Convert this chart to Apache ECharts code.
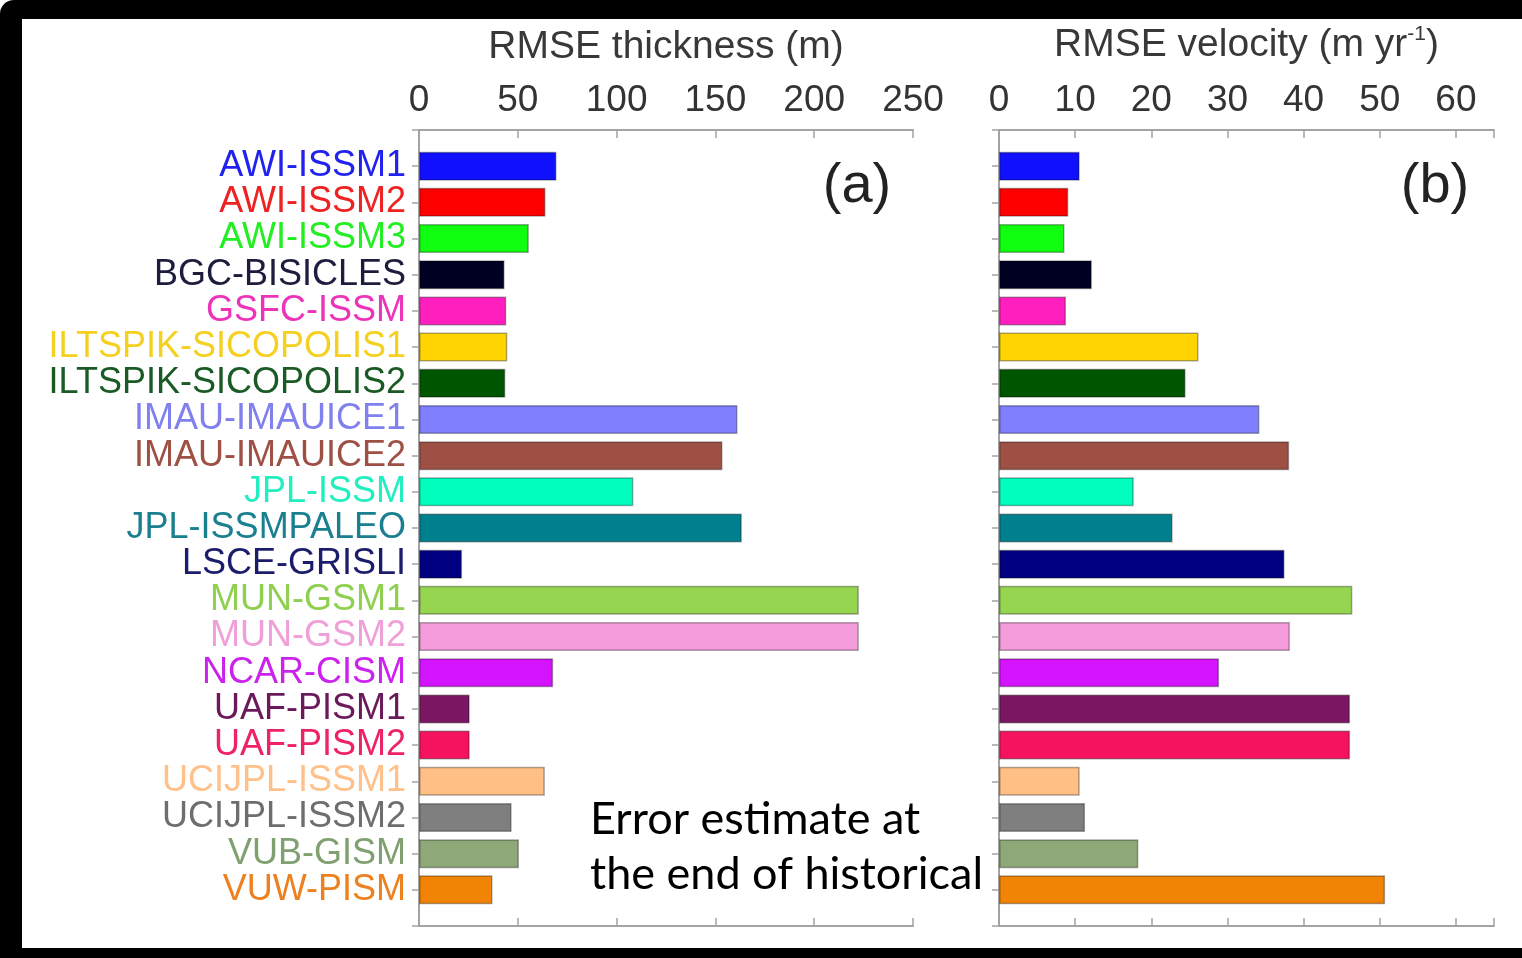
<!DOCTYPE html>
<html>
<head>
<meta charset="utf-8">
<script src="https://cdn.jsdelivr.net/npm/echarts@6/dist/echarts.min.js"></script>
<style>
html,body{margin:0;padding:0;background:#fff;}
#frame{position:absolute;left:0;top:0;width:1522px;height:958px;background:#000;border-top-left-radius:14px;}
#inner{position:absolute;left:22px;top:19px;width:1500px;height:929px;background:#fff;}
#c{position:absolute;left:0;top:0;width:1522px;height:958px;}
</style>
</head>
<body>
<div id="frame"><div id="inner"></div></div>
<div id="c"></div>
<script>
const categories = ['AWI-ISSM1','AWI-ISSM2','AWI-ISSM3','BGC-BISICLES','GSFC-ISSM','ILTSPIK-SICOPOLIS1','ILTSPIK-SICOPOLIS2','IMAU-IMAUICE1','IMAU-IMAUICE2','JPL-ISSM','JPL-ISSMPALEO','LSCE-GRISLI','MUN-GSM1','MUN-GSM2','NCAR-CISM','UAF-PISM1','UAF-PISM2','UCIJPL-ISSM1','UCIJPL-ISSM2','VUB-GISM','VUW-PISM'];
const thickness = [69.6,64.0,55.6,43.3,44.2,44.7,43.7,161.2,153.6,108.5,163.4,21.8,222.6,222.6,67.9,25.7,25.7,63.7,46.9,50.6,37.2];
const velocity = [10.6,9.1,8.6,12.2,8.8,26.2,24.5,34.2,38.1,17.7,22.8,37.5,46.4,38.2,28.9,46.1,46.1,10.6,11.3,18.3,50.7];
const colors = ['#1010ff','#ff0000','#10ff10','#000022','#ff1fbf','#ffd400','#005500','#8080ff','#9e5045','#00ffbf','#00808f','#000080','#96d54f','#f59cdc','#d413ff','#7a1762','#f5135f','#ffbf85','#7f7f7f','#8ea878','#f28405'];
const labelColors = ['#2222ee','#ee2222','#22ee22','#1c1c3c','#ee33bb','#f5d020','#1a5a24','#8080ee','#9e5045','#22eec0','#1a8090','#1c1c6c','#90d050','#f0a0d8','#cc22ee','#6a1a5a','#ee2266','#ffc08a','#6e6e6e','#80a070','#ee8020'];
const thicknessTicks = {min:0, max:250, step:50};
const velocityTicks = {min:0, max:65, step:10, lastLabel:60};
const thicknessTitle = 'RMSE thickness (m)';
const velocityTitle = ['RMSE velocity (m yr','-1',')'];
const annotation = ['Error estimate at','the end of historical'];

const font = '"Liberation Sans", Arial, Helvetica, sans-serif';
const axisCats = [''].concat(categories, ['']);
const pad = a => [null].concat(a.map((v,i)=>({value:v, itemStyle:{color:colors[i]}})), [null]);
const lineStyle = {color:'#a3a3a3', width:2};

function xAxes(gi, t, name){
  const common = {gridIndex:gi, type:'value', min:t.min, max:t.max, interval:t.step,
    axisLine:{show:true, onZero:false, lineStyle}, splitLine:{show:false},
    axisTick:{show:true, inside:true, length:8, lineStyle:{color:'#a3a3a3', width:1.5}}};
  return [
    Object.assign({}, common, {position:'top',
      axisLabel:{show:true, fontSize:37, color:'#333', fontFamily:font, margin:11,
        formatter: v => (t.lastLabel !== undefined && v > t.lastLabel) ? '' : String(v)},
      name:name, nameLocation:'middle', nameGap:63,
      nameTextStyle:{fontSize:39, color:'#383838', fontFamily:font,
        rich:{a:{fontSize:39, color:'#383838', fontFamily:font}, s:{fontSize:21, color:'#383838', fontFamily:font, padding:[0,0,22,0]}}}}),
    Object.assign({}, common, {position:'bottom', axisLabel:{show:false}})
  ];
}
function yAxes(gi, showLabels){
  return [
    {gridIndex:gi, type:'category', data:axisCats, inverse:true, boundaryGap:false, position:'left',
      axisLine:{show:true, lineStyle}, axisTick:{show:false}, splitLine:{show:false},
      axisLabel:{show:showLabels, interval:0, fontSize:36, fontFamily:font, margin:13,
        color:(v,idx)=>labelColors[(idx||1)-1] || '#333'}},
    {gridIndex:gi, type:'category', data:axisCats, inverse:true, boundaryGap:false, position:'right',
      axisLine:{show:true, lineStyle}, axisTick:{show:true, inside:true, interval:0, length:7, lineStyle:{color:'#a3a3a3', width:1.5}},
      axisLabel:{show:false}, splitLine:{show:false}}
  ];
}

const chart = echarts.init(document.getElementById('c'), null, {renderer:'canvas'});
chart.setOption({
  backgroundColor:'transparent',
  animation:false,
  grid:[{left:419, right:609, top:130, bottom:32}, {left:999, right:28, top:130, bottom:32}],
  xAxis: xAxes(0, thicknessTicks, thicknessTitle).concat(
         xAxes(1, velocityTicks, '{a|'+velocityTitle[0]+'}{s|'+velocityTitle[1]+'}{a|'+velocityTitle[2]+'}')),
  yAxis: yAxes(0, true).concat(yAxes(1, false)),
  series:[
    {type:'bar', xAxisIndex:0, yAxisIndex:0, data:pad(thickness), barWidth:29,
      itemStyle:{borderColor:'rgba(0,0,0,0.32)', borderWidth:1.5}},
    {type:'bar', xAxisIndex:2, yAxisIndex:2, data:pad(velocity), barWidth:29,
      itemStyle:{borderColor:'rgba(0,0,0,0.32)', borderWidth:1.5}}
  ],
  graphic:[
    {type:'text', z:100, x:857, y:187, style:{text:'(a)', font:'56px "Liberation Sans", Arial', fill:'#222', align:'center', verticalAlign:'middle'}},
    {type:'text', z:100, x:1435, y:187, style:{text:'(b)', font:'56px "Liberation Sans", Arial', fill:'#222', align:'center', verticalAlign:'middle'}},
    {type:'text', z:100, x:590, y:819, style:{text:annotation[0], font:'45px Lato', fill:'#000', align:'left', verticalAlign:'middle'}},
    {type:'text', z:100, x:590, y:874, style:{text:annotation[1], font:'45px Lato', fill:'#000', align:'left', verticalAlign:'middle'}}
  ]
});
</script>
</body>
</html>
